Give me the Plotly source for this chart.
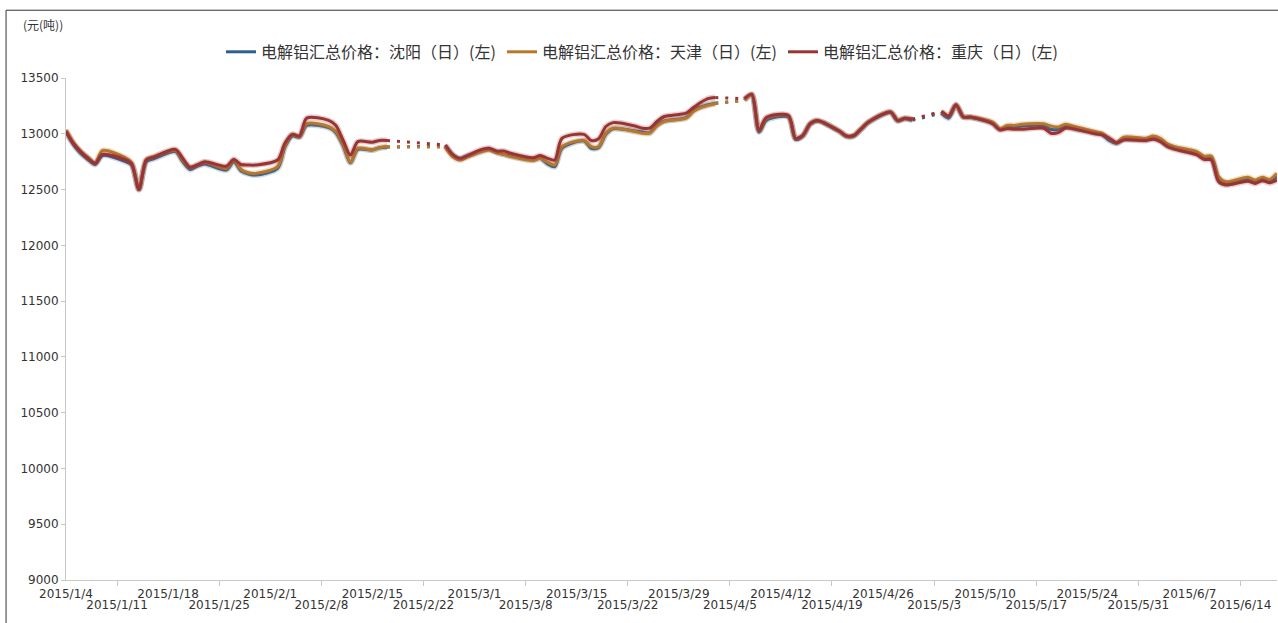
import plotly.graph_objects as go
import pandas as pd

# ---------------- data ----------------
dates = [
    "2015-01-04", "2015-01-05", "2015-01-06", "2015-01-07", "2015-01-08", "2015-01-09",
    "2015-01-12", "2015-01-13", "2015-01-14", "2015-01-15", "2015-01-16",
    "2015-01-19", "2015-01-20", "2015-01-21", "2015-01-22", "2015-01-23",
    "2015-01-26", "2015-01-27", "2015-01-28", "2015-01-29", "2015-01-30",
    "2015-02-02", "2015-02-03", "2015-02-04", "2015-02-05", "2015-02-06",
    "2015-02-09", "2015-02-10", "2015-02-11", "2015-02-12", "2015-02-13",
    "2015-02-15", "2015-02-16", "2015-02-17",
    "2015-02-25", "2015-02-26", "2015-02-27", "2015-02-28",
    "2015-03-02", "2015-03-03", "2015-03-04", "2015-03-05", "2015-03-06",
    "2015-03-09", "2015-03-10", "2015-03-11", "2015-03-12", "2015-03-13",
    "2015-03-16", "2015-03-17", "2015-03-18", "2015-03-19", "2015-03-20",
    "2015-03-23", "2015-03-24", "2015-03-25", "2015-03-26", "2015-03-27",
    "2015-03-30", "2015-03-31", "2015-04-01", "2015-04-02", "2015-04-03",
    "2015-04-07", "2015-04-08", "2015-04-09", "2015-04-10",
    "2015-04-13", "2015-04-14", "2015-04-15", "2015-04-16", "2015-04-17",
    "2015-04-20", "2015-04-21", "2015-04-22", "2015-04-23", "2015-04-24",
    "2015-04-27", "2015-04-28", "2015-04-29", "2015-04-30",
    "2015-05-04", "2015-05-05", "2015-05-06", "2015-05-07", "2015-05-08",
    "2015-05-11", "2015-05-12", "2015-05-13", "2015-05-14", "2015-05-15",
    "2015-05-18", "2015-05-19", "2015-05-20", "2015-05-21", "2015-05-22",
    "2015-05-25", "2015-05-26", "2015-05-27", "2015-05-28", "2015-05-29",
    "2015-06-01", "2015-06-02", "2015-06-03", "2015-06-04", "2015-06-05",
    "2015-06-08", "2015-06-09", "2015-06-10", "2015-06-11", "2015-06-12",
    "2015-06-15", "2015-06-16", "2015-06-17", "2015-06-18", "2015-06-19",
]

shenyang = [
    13020, 12905, 12825, 12770, 12725, 12805,
    12755, 12720, 12500, 12750, 12775,
    12840, 12750, 12680, 12710, 12730,
    12675, 12750, 12665, 12640, 12630,
    12690, 12880, 12980, 12970, 13075,
    13055, 13010, 12890, 12740, 12860,
    12855, 12875, 12880,
    12890, 12810, 12775, 12800,
    12845, 12860, 12835, 12815, 12800,
    12765, 12780, 12730, 12705, 12870,
    12935, 12870, 12875, 12995, 13045,
    13025, 13015, 13010, 13080, 13115,
    13145, 13210, 13240, 13260, 13275,
    13300, 13350, 13015, 13120,
    13150, 12950, 12980, 13085, 13115,
    13020, 12975, 12980, 13040, 13100,
    13190, 13115, 13135, 13120,
    13185, 13140, 13255, 13150, 13145,
    13095, 13040, 13060, 13060, 13070,
    13070, 13040, 13040, 13065, 13050,
    13010, 12995, 12940, 12915, 12950,
    12945, 12960, 12940, 12890, 12870,
    12825, 12780, 12780, 12590, 12555,
    12590, 12570, 12590, 12580, 12615,
]

tianjin = [
    13035, 12920, 12845, 12790, 12740, 12850,
    12790, 12740, 12505, 12770, 12795,
    12850, 12765, 12700, 12720, 12745,
    12690, 12765, 12680, 12650, 12645,
    12705, 12890, 12990, 12975, 13090,
    13065, 13020, 12900, 12745, 12870,
    12855, 12875, 12885,
    12880, 12795, 12765, 12790,
    12840, 12855, 12830, 12815, 12795,
    12760, 12780, 12745, 12720, 12885,
    12940, 12885, 12885, 13005, 13050,
    13020, 13005, 13005, 13070, 13110,
    13140, 13200, 13235, 13255, 13270,
    13300, 13350, 13030, 13140,
    13160, 12960, 12985, 13090, 13120,
    13025, 12980, 12985, 13045, 13105,
    13195, 13120, 13140, 13130,
    13200, 13160, 13260, 13155, 13150,
    13105, 13045, 13075, 13075, 13085,
    13090, 13070, 13060, 13085, 13070,
    13020, 13005, 12960, 12920, 12970,
    12960, 12980, 12960, 12910, 12885,
    12840, 12800, 12800, 12615, 12570,
    12610, 12585, 12610, 12590, 12645,
]

chongqing = [
    13020, 12915, 12840, 12780, 12735, 12815,
    12770, 12730, 12500, 12765, 12790,
    12860, 12780, 12700, 12720, 12750,
    12710, 12770, 12725, 12720, 12720,
    12765, 12915, 12995, 12980, 13140,
    13120, 13075, 12940, 12810, 12930,
    12925, 12940, 12940,
    12900, 12815, 12780, 12805,
    12860, 12870, 12845, 12845, 12825,
    12785, 12805, 12780, 12765, 12960,
    12995, 12940, 12955, 13065, 13100,
    13070, 13050, 13050, 13110, 13155,
    13185, 13235, 13280, 13315, 13325,
    13315, 13355, 13030, 13145,
    13165, 12960, 12985, 13090, 13120,
    13025, 12980, 12985, 13045, 13105,
    13195, 13120, 13140, 13130,
    13200, 13160, 13260, 13150, 13150,
    13090, 13035, 13045, 13040, 13040,
    13050, 13005, 13010, 13050, 13045,
    13000, 12990, 12960, 12920, 12945,
    12940, 12950, 12930, 12885, 12860,
    12810, 12770, 12765, 12570, 12540,
    12575, 12555, 12580, 12560, 12585,
]

series_names = [
    "电解铝汇总价格：沈阳（日）(左)",
    "电解铝汇总价格：天津（日）(左)",
    "电解铝汇总价格：重庆（日）(左)",
]
series_values = [shenyang, tianjin, chongqing]
series_colors = ["#2F5E92", "#B8782C", "#9A3434"]

x_odd_ticks = ["2015-01-04", "2015-01-18", "2015-02-01", "2015-02-15", "2015-03-01",
               "2015-03-15", "2015-03-29", "2015-04-12", "2015-04-26", "2015-05-10",
               "2015-05-24", "2015-06-07"]
x_even_ticks = ["2015-01-11", "2015-01-25", "2015-02-08", "2015-02-22", "2015-03-08",
                "2015-03-22", "2015-04-05", "2015-04-19", "2015-05-03", "2015-05-17",
                "2015-05-31", "2015-06-14"]
unit_label = "(元(吨))"

# ---------------- figure ----------------
d = pd.to_datetime(dates)


def tick_text(lst):
    return [f"{t.year}/{t.month}/{t.day}" for t in pd.to_datetime(lst)]


fig = go.Figure()

for name, vals, col in zip(series_names, series_values, series_colors):
    xs, ys, gaps = [], [], []
    for i in range(len(d)):
        if i > 0 and (d[i] - d[i - 1]).days > 3:
            xs.append(None)
            ys.append(None)
            gaps.append(([d[i - 1], d[i]], [vals[i - 1], vals[i]]))
        xs.append(d[i])
        ys.append(vals[i])
    # soft halo
    fig.add_trace(go.Scatter(x=xs, y=ys, mode="lines", showlegend=False, hoverinfo="skip",
                             line=dict(color=col, width=6, shape="spline", smoothing=0.8),
                             opacity=0.22))
    fig.add_trace(go.Scatter(x=xs, y=ys, mode="lines", name=name,
                             line=dict(color=col, width=3, shape="spline", smoothing=0.8)))
    for gx, gy in gaps:
        fig.add_trace(go.Scatter(x=gx, y=gy, mode="lines", showlegend=False, hoverinfo="skip",
                                 line=dict(color=col, width=3, dash="3px,7px")))

# dummy trace on second x axis so that it is drawn
fig.add_trace(go.Scatter(x=[d[0]], y=[None], xaxis="x2", showlegend=False, hoverinfo="skip"))

x_range = [d[0], d[-1]]
axis_col = "#C8C8C8"
tick_font = dict(family="DejaVu Sans, Verdana, sans-serif", size=12, color="#333333")

fig.update_layout(
    width=1278, height=623, autosize=False,
    margin=dict(l=66, r=1, t=78, b=43),
    paper_bgcolor="white", plot_bgcolor="white",
    showlegend=True,
    legend=dict(orientation="h", x=0.128, xanchor="left", y=1.052, yanchor="middle",
                font=dict(family="Noto Sans CJK SC, sans-serif", size=16, color="#333333"),
                itemwidth=30, tracegroupgap=0, entrywidth=236),
    xaxis=dict(type="date", range=x_range, showgrid=False, zeroline=False,
               showline=True, linecolor=axis_col, linewidth=1,
               tickmode="array", tickvals=x_odd_ticks, ticktext=tick_text(x_odd_ticks),
               ticks="", tickfont=tick_font, ticklabelstandoff=3),
    xaxis2=dict(type="date", range=x_range, overlaying="x", anchor="y", side="bottom",
                showgrid=False, zeroline=False, showline=False,
                tickmode="array", tickvals=x_even_ticks, ticktext=tick_text(x_even_ticks),
                ticks="outside", ticklen=5, tickcolor=axis_col, tickfont=tick_font,
                ticklabelstandoff=9),
    yaxis=dict(range=[9000, 13500], dtick=500, tick0=9000, tickformat="d",
               showgrid=False, zeroline=False,
               showline=True, linecolor=axis_col, linewidth=1,
               ticks="outside", ticklen=4, tickcolor=axis_col, tickfont=tick_font),
    annotations=[dict(text=unit_label, xref="paper", yref="paper", x=-0.037, y=1.106,
                      xanchor="left", yanchor="middle", showarrow=False,
                      font=dict(family="Noto Sans CJK SC, sans-serif", size=12, color="#333333"))],
    shapes=[dict(type="rect", xref="paper", yref="paper",
                 x0=-0.0495, x1=1.02, y0=-0.12, y1=1.135,
                 line=dict(color="#333333", width=1), fillcolor="rgba(0,0,0,0)", layer="below")],
)

fig.write_html("out.html", config={"displayModeBar": False},
               post_script="document.body.style.margin='0';")
